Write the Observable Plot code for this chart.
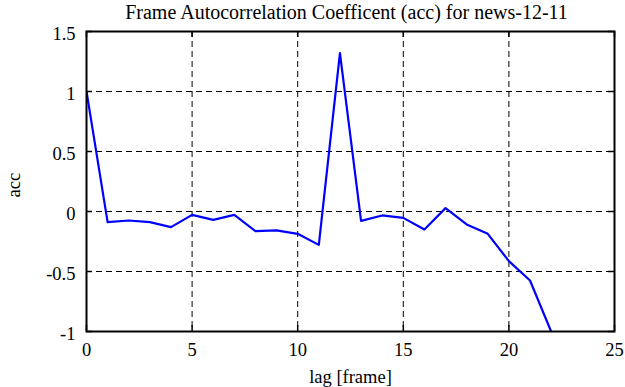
<!DOCTYPE html>
<html><head><meta charset="utf-8">
<script src="https://cdn.jsdelivr.net/npm/d3@7"></script>
<script src="https://cdn.jsdelivr.net/npm/@observablehq/plot@0.6"></script>
<style>body{margin:0;background:#fff}</style>
</head><body><div id="chart"></div>
<script>
const lags = [0,1,2,3,4,5,6,7,8,9,10,11,12,13,14,15,16,17,18,19,20,21,22];
const acc = [1.0,-0.089,-0.075,-0.089,-0.13,-0.028,-0.07,-0.028,-0.164,-0.158,-0.186,-0.278,1.32,-0.078,-0.033,-0.053,-0.15,0.028,-0.108,-0.186,-0.414,-0.575,-1.0];
const xTicks = [0,5,10,15,20,25];
const yTicks = [-1,-0.5,0,0.5,1,1.5];
const title = "Frame Autocorrelation Coefficent (acc) for news-12-11";

const data = lags.map((l,i)=>({lag:l, acc:acc[i]}));
const W=625,H=387,mL=86,mR=11,mT=31,mB=56;
const pw=W-mL-mR, ph=H-mT-mB;
const font = "Liberation Serif";
const fs = 18.5;

const chart = Plot.plot({
  width:W, height:H, marginLeft:mL, marginRight:mR, marginTop:mT, marginBottom:mB,
  style:{fontFamily:font, fontSize:"18px", color:"#000", background:"#fff"},
  x:{domain:[0,25], axis:null},
  y:{domain:[-1,1.5], axis:null},
  marks:[
    Plot.gridX(xTicks.slice(1,-1), {stroke:"#000", strokeOpacity:1, strokeWidth:1, strokeDasharray:"6,4"}),
    Plot.gridY(yTicks.slice(1,-1), {stroke:"#000", strokeOpacity:1, strokeWidth:1, strokeDasharray:"6,4"}),
    Plot.tickX(xTicks, {x:d=>d, insetTop:ph-6, stroke:"#000", strokeWidth:1.5}),
    Plot.tickX(xTicks, {x:d=>d, insetBottom:ph-6, stroke:"#000", strokeWidth:1.5}),
    Plot.tickY(yTicks, {y:d=>d, insetRight:pw-6, stroke:"#000", strokeWidth:1.5}),
    Plot.tickY(yTicks, {y:d=>d, insetLeft:pw-6, stroke:"#000", strokeWidth:1.5}),
    Plot.text(xTicks, {x:d=>d, text:d=>String(d), frameAnchor:"bottom", lineAnchor:"middle", dy:19, fontSize:fs, fontFamily:font, fill:"#000"}),
    Plot.text(yTicks, {y:d=>d, text:d=>String(d), frameAnchor:"left", textAnchor:"end", dx:-11, dy:2.5, fontSize:fs, fontFamily:font, fill:"#000"}),
    Plot.text([title], {frameAnchor:"top", lineAnchor:"middle", dx:-4, dy:-19, fontSize:20, fontFamily:font, fill:"#000"}),
    Plot.text(["lag [frame]"], {frameAnchor:"bottom", lineAnchor:"middle", dy:46, fontSize:fs, fontFamily:font, fill:"#000"}),
    Plot.text(["acc"], {frameAnchor:"left", dx:-72, dy:16, rotate:-90, fontSize:fs, fontFamily:font, fill:"#000"}),
    Plot.line(data, {x:"lag", y:"acc", stroke:"#0000ff", strokeWidth:2.2, clip:true}),
    Plot.frame({stroke:"#000", strokeWidth:2})
  ]
});
document.getElementById("chart").append(chart);
</script></body></html>
